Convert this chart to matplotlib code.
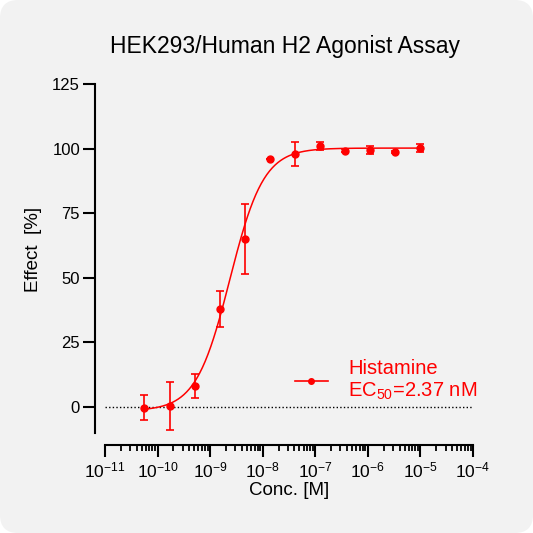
import numpy as np
import matplotlib
matplotlib.use("Agg")
import matplotlib.pyplot as plt
from matplotlib.patches import FancyBboxPatch
from matplotlib.ticker import LogLocator, LogFormatterSciNotation, FixedLocator

plt.rcParams['font.family'] = ['Liberation Sans', 'DejaVu Sans']
plt.rcParams['mathtext.fontset'] = 'custom'
plt.rcParams['mathtext.rm'] = 'Liberation Sans'
plt.rcParams['mathtext.it'] = 'Liberation Sans:italic'
plt.rcParams['mathtext.bf'] = 'Liberation Sans:bold'
plt.rcParams['mathtext.default'] = 'regular'

# ---- data ----
title = "HEK293/Human H2 Agonist Assay"
conc = [5.6e-11, 1.69e-10, 5.08e-10, 1.52e-9, 4.57e-9, 1.37e-8,
        4.12e-8, 1.23e-7, 3.70e-7, 1.11e-6, 3.33e-6, 1.0e-5]
effect = [-0.2, 0.4, 8.2, 38.0, 65.0, 95.9, 97.9, 101.1, 99.2, 99.5, 98.7, 100.1]
err = [4.9, 9.2, 4.6, 6.9, 13.7, 0.0, 4.8, 1.5, 0.5, 1.5, 0.5, 1.6]
# fit parameters (4PL)
fit_bottom = -1.5
fit_top = 100.2
fit_ec50 = 2.37e-9
fit_hill = 1.35
series_label = "Histamine\nEC$_{50}$=2.37 nM"
y_ticks = [0, 25, 50, 75, 100, 125]
x_decades = [-11, -10, -9, -8, -7, -6, -5, -4]

red = '#FF0000'

W = 533
fig = plt.figure(figsize=(5.33, 5.33), dpi=100, facecolor='white')
bg = FancyBboxPatch((0.0, 0.0), 1.0, 1.0,
                    boxstyle="round,pad=0,rounding_size=0.034",
                    transform=fig.transFigure, facecolor='#F2F2F2',
                    edgecolor='none', zorder=-10)
fig.patches.append(bg)

L, R, T, B = 105, 473, 84, 445
ax = fig.add_axes([L / W, 1 - B / W, (R - L) / W, (B - T) / W])
ax.patch.set_alpha(0)

ax.set_xscale('log')
ax.set_xlim(1e-11, 1e-4)
ax.set_ylim(-14.7, 125)

# fitted curve
xs = np.logspace(np.log10(conc[0]), np.log10(conc[-1]), 400)
ys = fit_bottom + (fit_top - fit_bottom) / (1 + (fit_ec50 / xs) ** fit_hill)
ax.plot(xs, ys, color=red, lw=1.1, zorder=3)

ax.axhline(0, color='black', ls=(0, (1, 1.6)), lw=1.0, zorder=1)

ax.errorbar(conc, effect, yerr=err, fmt='o', color=red, ms=5,
            elinewidth=1.2, capsize=2.8, capthick=1.2, zorder=4)

# legend handle
h = ax.errorbar([], [], yerr=[], fmt='-o', color=red, ms=4, lw=1.2)
leg = ax.legend([h.lines[0]], [series_label], loc='center left',
                bbox_to_anchor=(0.516, 0.179), frameon=False,
                fontsize=14.5, labelcolor=red, handlelength=1.64,
                handletextpad=1.0, borderpad=0, borderaxespad=0)

# spines
for s in ['top', 'right']:
    ax.spines[s].set_visible(False)
ax.spines['left'].set_position(('outward', 7))
ax.spines['left'].set_bounds(-10, 125)
ax.spines['left'].set_linewidth(1.5)
ax.spines['bottom'].set_linewidth(1.5)

ax.set_yticks(y_ticks)
ax.xaxis.set_major_locator(FixedLocator([10.0 ** d for d in x_decades]))
ax.xaxis.set_major_formatter(LogFormatterSciNotation())
ax.xaxis.set_minor_locator(LogLocator(base=10, subs=np.arange(2, 10), numticks=20))
ax.tick_params(axis='y', length=8.5, width=1.5, labelsize=12, pad=2.5)
ax.tick_params(axis='x', which='major', length=8.5, width=1.5, labelsize=12.5, pad=3)
ax.tick_params(axis='x', which='minor', length=4.5, width=1.3)

ax.set_xlabel("Conc. [M]", fontsize=13.5, labelpad=1)
ax.set_ylabel("Effect  [%]", fontsize=13.5)
ax.yaxis.set_label_coords(-0.171, 0.543)

fig.text(285 / W, 1 - 47 / W, title, fontsize=16.5, ha='center', va='center')

fig.savefig("out.png", dpi=100, facecolor=fig.get_facecolor())
